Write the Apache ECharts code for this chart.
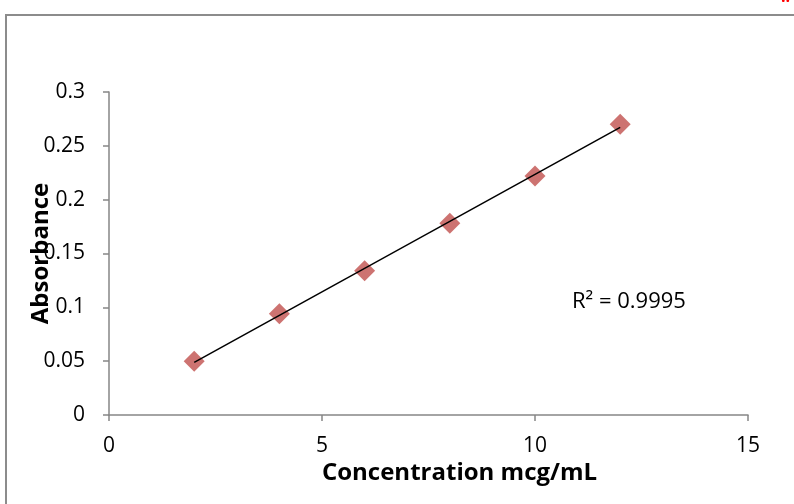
<!DOCTYPE html>
<html>
<head>
<meta charset="utf-8">
<script src="https://cdn.jsdelivr.net/npm/echarts@6/dist/echarts.min.js"></script>
<style>
  html, body { margin: 0; padding: 0; background: #fff; }
  #myChart { width: 794px; height: 504px; }
</style>
</head>
<body>
<div id="myChart"></div>
<script>
  // standard curve readings
  let concentration = [2, 4, 6, 8, 10, 12];
  let absorbance = [0.05, 0.094, 0.134, 0.178, 0.222, 0.27];
  let rSquaredLabel = 'R² = 0.9995';

  // least squares trendline from the points
  let n = concentration.length;
  let mx = concentration.reduce((a, b) => a + b, 0) / n;
  let my = absorbance.reduce((a, b) => a + b, 0) / n;
  let sxy = 0, sxx = 0;
  for (let i = 0; i < n; i++) {
    sxy += (concentration[i] - mx) * (absorbance[i] - my);
    sxx += (concentration[i] - mx) * (concentration[i] - mx);
  }
  let slope = sxy / sxx;
  let intercept = my - slope * mx;
  let x0 = concentration[0], x1 = concentration[n - 1];
  let trend = [[x0, intercept + slope * x0], [x1, intercept + slope * x1]];

  let font = '"Open Sans", "Liberation Sans", sans-serif';
  let myChart = echarts.init(document.getElementById('myChart'));
  myChart.setOption({
    animation: false,
    grid: { left: 109, right: 46, top: 92, bottom: 89 },
    xAxis: {
      type: 'value',
      min: 0, max: 15, interval: 5,
      name: 'Concentration mcg/mL',
      nameLocation: 'middle',
      nameGap: 46,
      nameMoveOverlap: false,
      nameTextStyle: { fontFamily: font, fontSize: 24, fontWeight: 'bold', color: '#000', padding: [0, 0, 0, 62] },
      axisLine: { lineStyle: { color: '#868686', width: 1.5 } },
      axisTick: { show: true, length: 6, lineStyle: { color: '#868686', width: 1.5 } },
      axisLabel: { fontFamily: font, fontSize: 21, color: '#000', margin: 21 },
      splitLine: { show: false }
    },
    yAxis: {
      type: 'value',
      min: 0, max: 0.3, interval: 0.05,
      name: 'Absorbance',
      nameLocation: 'middle',
      nameGap: 56,
      nameRotate: 90,
      nameMoveOverlap: false,
      nameTextStyle: { fontFamily: font, fontSize: 24, fontWeight: 'bold', color: '#000' },
      axisLine: { show: true, lineStyle: { color: '#868686', width: 1.5 } },
      axisTick: { show: true, length: 6, lineStyle: { color: '#868686', width: 1.5 } },
      axisLabel: { fontFamily: font, fontSize: 21, color: '#000', margin: 24 },
      splitLine: { show: false }
    },
    graphic: [
      {
        type: 'rect',
        shape: { x: 6, y: 15, width: 800, height: 500 },
        style: { fill: 'none', stroke: '#8c8c8c', lineWidth: 2 },
        silent: true
      },
      {
        type: 'text',
        left: 572, top: 291,
        style: { text: rSquaredLabel, fontFamily: font, fontSize: 22, fill: '#000' }
      },
      {
        type: 'text',
        left: 781, top: -11,
        style: { text: '!!', fontFamily: font, fontSize: 16, fontWeight: 'bold', fill: '#ff0000' }
      }
    ],
    series: [
      {
        name: 'Trendline',
        type: 'line',
        data: trend,
        symbol: 'none',
        lineStyle: { color: '#000', width: 1.5 },
        z: 3
      },
      {
        name: 'Absorbance',
        type: 'scatter',
        data: concentration.map((c, i) => [c, absorbance[i]]),
        symbol: 'diamond',
        symbolSize: [21, 21],
        itemStyle: { color: '#C0504D' },
        z: 2
      }
    ]
  });
</script>
</body>
</html>
